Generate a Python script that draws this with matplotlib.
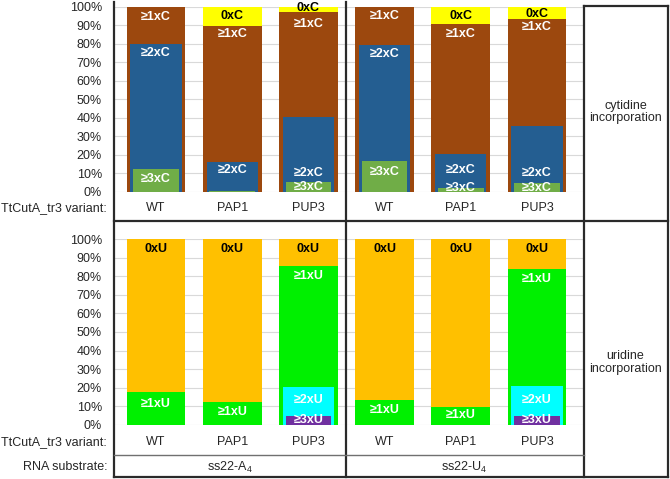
import matplotlib
matplotlib.use("Agg")
import matplotlib.pyplot as plt
from matplotlib.lines import Line2D

plt.rcParams['font.family'] = ['Liberation Sans', 'DejaVu Sans']
plt.rcParams['mathtext.fontset'] = 'custom'
plt.rcParams['mathtext.rm'] = 'Liberation Sans'
plt.rcParams['mathtext.it'] = 'Liberation Sans:italic'

# ---------------- data ----------------
substrates = [r"ss22-A$_\mathregular{4}$", r"ss22-U$_\mathregular{4}$"]
variants = ["WT", "PAP1", "PUP3"]
bar_labels = variants * 2

# cytidine incorporation (cumulative %)
cyt_ge1 = [100.0, 89.6, 96.8, 100.0, 90.7, 93.2]
cyt_ge2 = [80.0, 16.1, 40.3, 79.4, 20.6, 35.8]
cyt_ge3 = [12.4, 0.5, 5.2, 16.5, 2.3, 5.0]

# uridine incorporation (cumulative %)
uri_ge1 = [17.6, 12.1, 85.8, 13.2, 9.5, 84.1]
uri_ge2 = [0.0, 0.0, 20.3, 0.0, 0.0, 21.0]
uri_ge3 = [0.0, 0.0, 4.7, 0.0, 0.0, 4.9]

yticks = list(range(0, 101, 10))

# ---------------- label layout (y position in %, None = no label) ----------------
cyt_lab = [
    ("0xC", "black", [None, 94.8, 99.3, None, 94.8, 96.0]),
    ("\u22651xC", "white", [94.6, 85.0, 90.7, 94.8, 85.0, 88.9]),
    ("\u22652xC", "white", [74.7, 11.8, 10.0, 74.6, 11.8, 10.0]),
    ("\u22653xC", "white", [7.0, None, 2.9, 10.6, 2.3, 2.3]),
]
uri_lab = [
    ("0xU", "black", [94.8, 94.8, 94.8, 94.8, 94.8, 94.8]),
    ("\u22651xU", "white", [11.3, 6.7, 80.4, 7.9, 5.0, 78.6]),
    ("\u22652xU", "white", [None, None, 13.1, None, None, 13.1]),
    ("\u22653xU", "white", [None, None, 2.5, None, None, 2.5]),
]

W, H = 670, 479
fig = plt.figure(figsize=(W / 100, H / 100), dpi=100)
fig.patch.set_facecolor("white")

def fx(px):
    return px / W

def fy(py):
    return 1 - py / H

positions = list(range(len(bar_labels)))
x0, dx = 156.0, 76.2
xlim = ((113 - x0) / dx, (583 - x0) / dx)
w1, w2, w3 = 0.77, 0.67, 0.60
txt = "#262626"

def make_axes(top_px, bot_px):
    ax = fig.add_axes([fx(113), fy(bot_px), fx(583) - fx(113), (bot_px - top_px) / H])
    ax.set_xlim(*xlim)
    ax.set_ylim(0, 100)
    ax.set_yticks(yticks)
    ax.set_yticklabels([f"{t}%" for t in yticks], fontsize=9, color=txt)
    ax.tick_params(axis="y", length=0, pad=8)
    ax.set_xticks([])
    for s in ax.spines.values():
        s.set_visible(False)
    ax.set_axisbelow(True)
    ax.grid(axis="y", color="#d9d9d9", linewidth=0.8)
    ax.patch.set_alpha(0)
    return ax

def put_labels(ax, labs):
    for text, col, ys in labs:
        for p, y in zip(positions, ys):
            if y is None:
                continue
            ax.text(p, y, text, ha="center", va="center", color=col,
                    fontsize=9, fontweight="bold", clip_on=False, zorder=20)

# ----- top panel: cytidine -----
ax1 = make_axes(6.5, 192)
full = [100.0] * len(positions)
ax1.bar(positions, full, width=w1, color="#FFFF00", zorder=2)
ax1.bar(positions, cyt_ge1, width=w1, color="#9C480E", zorder=3)
ax1.bar(positions, cyt_ge2, width=w2, color="#245E91", zorder=4)
ax1.bar(positions, cyt_ge3, width=w3, color="#70AD47", zorder=5)
put_labels(ax1, cyt_lab)

# ----- bottom panel: uridine -----
ax2 = make_axes(239.3, 424.7)
ax2.bar(positions, full, width=w1, color="#FFC000", zorder=2)
ax2.bar(positions, uri_ge1, width=w1, color="#00F000", zorder=3)
ax2.bar(positions, uri_ge2, width=w2, color="#00FFFF", zorder=4)
ax2.bar(positions, uri_ge3, width=w3, color="#7030A0", zorder=5)
put_labels(ax2, uri_lab)

# variant rows
for ypx in (208.3, 441.7):
    for p, lab in zip(positions, bar_labels):
        fig.text(fx(x0 + p * dx), fy(ypx), lab, ha="center", va="center",
                 fontsize=9, color=txt)
    fig.text(fx(107), fy(ypx), "TtCutA_tr3 variant:", ha="right", va="center",
             fontsize=9, color=txt)

fig.text(fx(107), fy(466.7), "RNA substrate:", ha="right", va="center",
         fontsize=9, color=txt)
fig.text(fx(229.5), fy(467), substrates[0], ha="center", va="center",
         fontsize=9, color=txt)
fig.text(fx(464.5), fy(467), substrates[1], ha="center", va="center",
         fontsize=9, color=txt)

fig.text(fx(625.5), fy(112), "cytidine\nincorporation", ha="center", va="center",
         fontsize=9, color=txt, linespacing=1.1)
fig.text(fx(625.5), fy(362.5), "uridine\nincorporation", ha="center", va="center",
         fontsize=9, color=txt, linespacing=1.1)

# frame lines
dark = "#2a2a2a"
def hline(y, xa, xb, color=dark, lw=1.6):
    fig.add_artist(Line2D([fx(xa), fx(xb)], [fy(y), fy(y)], color=color, lw=lw,
                          solid_capstyle="projecting"))

def vline(x, ya, yb, color=dark, lw=1.6):
    fig.add_artist(Line2D([fx(x), fx(x)], [fy(ya), fy(yb)], color=color, lw=lw,
                          solid_capstyle="projecting"))

vline(113.5, 2, 477)
vline(346, 2, 477)
vline(583.5, 6, 477)
vline(667.5, 6, 477)
hline(6, 583.5, 667.5)
hline(221, 113.5, 667.5)
hline(477, 113.5, 667.5)
hline(455, 113.5, 583.5, color="#707070", lw=1.0)

fig.savefig("out.png", dpi=100, facecolor="white")
